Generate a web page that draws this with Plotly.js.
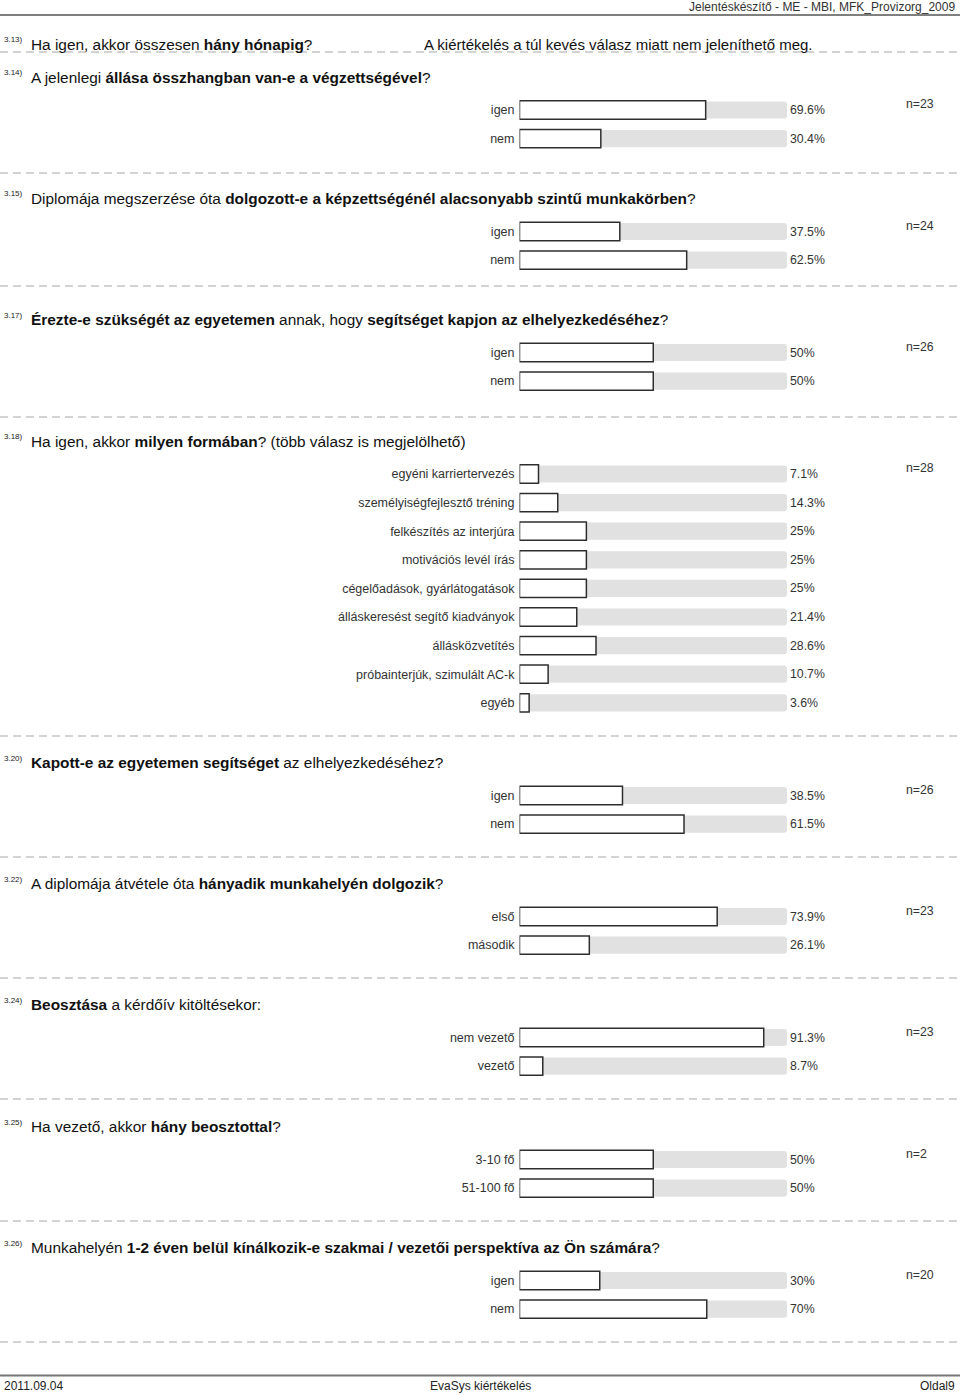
<!DOCTYPE html>
<html>
<head>
<meta charset="utf-8">
<script src="https://cdn.plot.ly/plotly-3.0.1.min.js"></script>
<style>
html,body{margin:0;padding:0;background:#fff;}
#chart{width:960px;height:1395px;}
</style>
</head>
<body>
<div id="chart"></div>
<script>
// ---------------- DATA ----------------
const headerText = 'Jelentéskészítő - ME - MBI, MFK_Provizorg_2009';
const footerLeft = '2011.09.04';
const footerCenter = 'EvaSys kiértékelés';
const footerRight = 'Oldal9';

const q313Num = '3.13)';
const q313Text = 'Ha igen, akkor összesen <b>hány hónapig</b>?';
const q313Note = 'A kiértékelés a túl kevés válasz miatt nem jeleníthető meg.';

const q314Num = '3.14)';
const q314Text = 'A jelenlegi <b>állása összhangban van-e a végzettségével</b>?';
const q314Labels = ['igen', 'nem'];
const q314Values = [69.6, 30.4];
const q314N = 23;

const q315Num = '3.15)';
const q315Text = 'Diplomája megszerzése óta <b>dolgozott-e a képzettségénél alacsonyabb szintű munkakörben</b>?';
const q315Labels = ['igen', 'nem'];
const q315Values = [37.5, 62.5];
const q315N = 24;

const q317Num = '3.17)';
const q317Text = '<b>Érezte-e szükségét az egyetemen</b> annak, hogy <b>segítséget kapjon az elhelyezkedéséhez</b>?';
const q317Labels = ['igen', 'nem'];
const q317Values = [50, 50];
const q317N = 26;

const q318Num = '3.18)';
const q318Text = 'Ha igen, akkor <b>milyen formában</b>? (több válasz is megjelölhető)';
const q318Labels = ['egyéni karriertervezés', 'személyiségfejlesztő tréning', 'felkészítés az interjúra',
  'motivációs levél írás', 'cégelőadások, gyárlátogatások', 'álláskeresést segítő kiadványok',
  'állásközvetítés', 'próbainterjúk, szimulált AC-k', 'egyéb'];
const q318Values = [7.1, 14.3, 25, 25, 25, 21.4, 28.6, 10.7, 3.6];
const q318N = 28;

const q320Num = '3.20)';
const q320Text = '<b>Kapott-e az egyetemen segítséget</b> az elhelyezkedéséhez?';
const q320Labels = ['igen', 'nem'];
const q320Values = [38.5, 61.5];
const q320N = 26;

const q322Num = '3.22)';
const q322Text = 'A diplomája átvétele óta <b>hányadik munkahelyén dolgozik</b>?';
const q322Labels = ['első', 'második'];
const q322Values = [73.9, 26.1];
const q322N = 23;

const q324Num = '3.24)';
const q324Text = '<b>Beosztása</b> a kérdőív kitöltésekor:';
const q324Labels = ['nem vezető', 'vezető'];
const q324Values = [91.3, 8.7];
const q324N = 23;

const q325Num = '3.25)';
const q325Text = 'Ha vezető, akkor <b>hány beosztottal</b>?';
const q325Labels = ['3-10 fő', '51-100 fő'];
const q325Values = [50, 50];
const q325N = 2;

const q326Num = '3.26)';
const q326Text = 'Munkahelyén <b>1-2 éven belül kínálkozik-e szakmai / vezetői perspektíva az Ön számára</b>?';
const q326Labels = ['igen', 'nem'];
const q326Values = [30, 70];
const q326N = 20;

// ---------------- LAYOUT (pixel positions) ----------------
const W = 960, H = 1395;
const ROW = 28.6;
const px = p => p / W;
const py = p => 1 - p / H;
const FONT = 'Liberation Sans, Arial, sans-serif';

const blocks = [
  {num: q314Num, text: q314Text, labels: q314Labels, values: q314Values, n: q314N, first: 110},
  {num: q315Num, text: q315Text, labels: q315Labels, values: q315Values, n: q315N, first: 231.5},
  {num: q317Num, text: q317Text, labels: q317Labels, values: q317Values, n: q317N, first: 352.5},
  {num: q318Num, text: q318Text, labels: q318Labels, values: q318Values, n: q318N, first: 474},
  {num: q320Num, text: q320Text, labels: q320Labels, values: q320Values, n: q320N, first: 795.5},
  {num: q322Num, text: q322Text, labels: q322Labels, values: q322Values, n: q322N, first: 916.5},
  {num: q324Num, text: q324Text, labels: q324Labels, values: q324Values, n: q324N, first: 1037.5},
  {num: q325Num, text: q325Text, labels: q325Labels, values: q325Values, n: q325N, first: 1159.5},
  {num: q326Num, text: q326Text, labels: q326Labels, values: q326Values, n: q326N, first: 1280.5}
];
const dashedY = [52, 173, 286, 417, 736, 857, 978, 1099, 1221, 1342];

const fmt = v => (Math.round(v * 10) / 10).toString() + '%';

const traces = [];
const annotations = [];
const shapes = [];
const layout = {
  width: W, height: H,
  margin: {l: 0, r: 0, t: 0, b: 0},
  paper_bgcolor: '#fff', plot_bgcolor: 'rgba(0,0,0,0)',
  showlegend: false,
  barmode: 'overlay',
  font: {family: FONT, color: '#333', size: 12},
  xaxis: {domain: [px(519.5), px(787)], range: [0, 100], showgrid: false, zeroline: false,
          showline: false, showticklabels: false, ticks: '', fixedrange: true, anchor: 'y'}
};

function question(num, text, y) {
  annotations.push({xref: 'paper', yref: 'paper', x: px(2), y: py(y - 4.5), xanchor: 'left', yanchor: 'middle',
    text: num, showarrow: false, font: {family: FONT, size: 8, color: '#222'}});
  annotations.push({xref: 'paper', yref: 'paper', x: px(29), y: py(y), xanchor: 'left', yanchor: 'middle',
    text: text, showarrow: false, font: {family: FONT, size: 15.4, color: '#111'}});
}

question(q313Num, q313Text, 44);
annotations.push({xref: 'paper', yref: 'paper', x: px(422), y: py(44), xanchor: 'left', yanchor: 'middle',
  text: q313Note, showarrow: false, font: {family: FONT, size: 15, color: '#111'}});

blocks.forEach((b, i) => {
  const yName = i === 0 ? 'y' : 'y' + (i + 1);
  const yKey = i === 0 ? 'yaxis' : 'yaxis' + (i + 1);
  const k = b.labels.length;
  const top = b.first - ROW / 2;
  const bot = b.first + (k - 1) * ROW + ROW / 2;
  layout[yKey] = {
    domain: [py(bot), py(top)], type: 'category', categoryorder: 'array', categoryarray: b.labels,
    range: [k - 0.5, -0.5], anchor: 'x', showgrid: false, zeroline: false, showline: false,
    ticks: '', ticklabelstandoff: 4, fixedrange: true,
    tickfont: {family: FONT, size: 12.5, color: '#333'}
  };
  traces.push({
    type: 'bar', orientation: 'h', xaxis: 'x', yaxis: yName,
    y: b.labels, x: b.labels.map(() => 100), width: 0.6,
    marker: {color: '#e1e1e1', line: {width: 0}, cornerradius: 3},
    text: b.values.map(fmt), textposition: 'outside', constraintext: 'none', cliponaxis: false,
    textfont: {family: FONT, size: 12.3, color: '#333'}, hoverinfo: 'skip'
  });
  traces.push({
    type: 'bar', orientation: 'h', xaxis: 'x', yaxis: yName,
    y: b.labels, x: b.values, width: 0.64,
    marker: {color: '#ffffff', line: {width: 1.5, color: '#2e2e2e'}, cornerradius: 4},
    hoverinfo: 'skip'
  });
  question(b.num, b.text, b.first - 33);
  annotations.push({xref: 'paper', yref: 'paper', x: px(904), y: py(b.first - 6), xanchor: 'left', yanchor: 'middle',
    text: 'n=' + b.n, showarrow: false, font: {family: FONT, size: 12.3, color: '#333'}});
});

dashedY.forEach(y => {
  shapes.push({type: 'line', xref: 'paper', yref: 'paper', x0: 0, x1: 1, y0: py(y), y1: py(y),
    line: {color: '#a8a8a8', width: 1.2, dash: '8px,5px'}});
});

// header
shapes.push({type: 'line', xref: 'paper', yref: 'paper', x0: 0, x1: 1, y0: py(15), y1: py(15),
  line: {color: '#555', width: 1.5}});
annotations.push({xref: 'paper', yref: 'paper', x: px(957), y: py(6.5), xanchor: 'right', yanchor: 'middle',
  text: headerText, showarrow: false, font: {family: FONT, size: 12, color: '#333'}});
// footer
shapes.push({type: 'line', xref: 'paper', yref: 'paper', x0: 0, x1: 1, y0: py(1375.5), y1: py(1375.5),
  line: {color: '#777', width: 2}});
annotations.push({xref: 'paper', yref: 'paper', x: px(2), y: py(1386), xanchor: 'left', yanchor: 'middle',
  text: footerLeft, showarrow: false, font: {family: FONT, size: 12, color: '#222'}});
annotations.push({xref: 'paper', yref: 'paper', x: px(480), y: py(1386), xanchor: 'center', yanchor: 'middle',
  text: footerCenter, showarrow: false, font: {family: FONT, size: 12, color: '#222'}});
annotations.push({xref: 'paper', yref: 'paper', x: px(957), y: py(1386), xanchor: 'right', yanchor: 'middle',
  text: footerRight, showarrow: false, font: {family: FONT, size: 12, color: '#222'}});

layout.annotations = annotations;
layout.shapes = shapes;

Plotly.newPlot('chart', traces, layout, {staticPlot: true, displayModeBar: false});
</script>
</body>
</html>
